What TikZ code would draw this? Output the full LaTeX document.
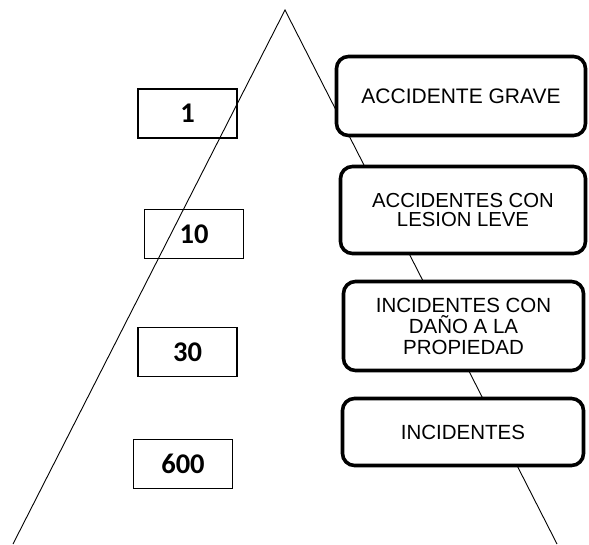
\documentclass[tikz,border=0pt]{standalone}
\usepackage{fontspec}
\setmainfont{Liberation Sans}
\newfontfamily\numfont{Carlito}

\tikzset{
  numbox/.style={draw, line width=1.3pt, minimum width=99pt, minimum height=49pt,
    inner sep=0pt, font=\numfont\bfseries\fontsize{28.5}{30}\selectfont},
  levelbox/.style={draw, fill=white, line width=3.6pt, rounded corners=12pt,
    inner sep=0pt, align=center}
}

\begin{document}
\begin{tikzpicture}[x=1pt, y=-1pt]
            \useasboundingbox (0,0) rectangle (589,544);

            %pyramid
            \coordinate (apex) at (285, 10);
            \coordinate (baseL) at (13, 544);
            \coordinate (baseR) at (557, 544);
            \draw[line width=0.9pt] (baseL) -- (apex) -- (baseR);

            %counts
            \node[numbox] (n1) at (187.5, 113.5) {1};
            \node[numbox] (n10) at (194, 234) {10};
            \node[numbox] (n30) at (187.5, 352) {30};
            \node[numbox] (n600) at (183, 464) {600};

            %levels
            \node[levelbox, minimum width=249pt, minimum height=79pt, font=\fontsize{21}{23}\selectfont] (grave) at (461, 96) {ACCIDENTE GRAVE};
            \node[levelbox, minimum width=245pt, minimum height=87pt, font=\fontsize{20.3}{19}\selectfont] (leve) at (463, 210) {ACCIDENTES CON\\LESION LEVE};
            \node[levelbox, minimum width=240pt, minimum height=89pt, font=\fontsize{20.5}{21}\selectfont] (dano) at (463.5, 326) {INCIDENTES CON\\DAÑO A LA\\PROPIEDAD};
            \node[levelbox, minimum width=241pt, minimum height=67pt, font=\fontsize{20.5}{22}\selectfont] (incid) at (463, 432) {INCIDENTES};
        \end{tikzpicture}
\end{document}
